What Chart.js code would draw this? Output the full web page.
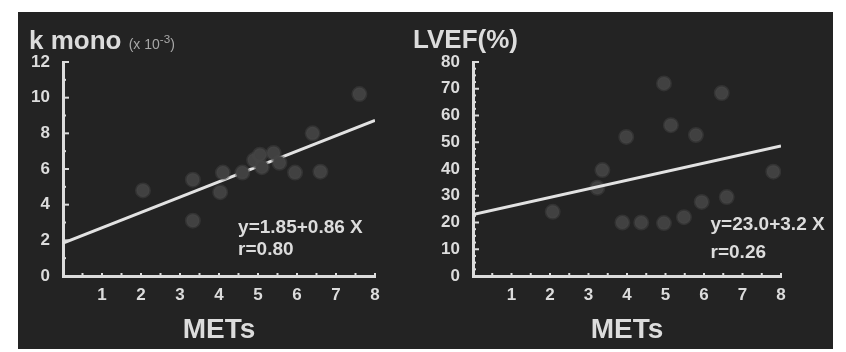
<!DOCTYPE html>
<html>
<head>
<meta charset="utf-8">
<script src="https://cdn.jsdelivr.net/npm/chart.js@4"></script>
<style>
  body { margin: 0; background: #fff; width: 846px; height: 352px; overflow: hidden; }
  #panel { position: absolute; left: 18px; top: 12px; width: 815px; height: 337px; background: #232323; }
  #cLeft { position: absolute; left: 0; top: 0; }
  #cRight { position: absolute; left: 405px; top: 0; }
  .ttl { position: absolute; color: #dcdcdc; font-family: "Liberation Sans", Arial, sans-serif; font-weight: bold; font-size: 26px; white-space: nowrap; line-height: 30px; }
  .ttl small { font-size: 14px; font-weight: normal; color: #a8a8a8; }
</style>
</head>
<body>
<div id="panel">
  <canvas id="cLeft" width="405" height="337"></canvas>
  <canvas id="cRight" width="410" height="337"></canvas>
  <div class="ttl" style="left:11px; top:12px;">k mono <small>(x 10<sup>-3</sup>)</small></div>
  <div class="ttl" style="left:395px; top:12px;">LVEF(%)</div>
</div>
<script>
// k mono vs METs
const kmonoX = [2.05, 3.33, 3.33, 4.03, 4.1, 4.6, 4.9, 5.05, 5.1, 5.4, 5.55, 5.95, 6.4, 6.6, 7.6];
const kmonoY = [4.8, 5.4, 3.1, 4.7, 5.8, 5.8, 6.5, 6.8, 6.1, 6.9, 6.35, 5.8, 8.0, 5.85, 10.2];
const kmonoFitX = [0, 8];
const kmonoFitY = [1.85, 8.73];

// LVEF vs METs
const lvefX = [2.07, 3.23, 3.36, 3.88, 3.98, 4.37, 4.96, 4.96, 5.14, 5.48, 5.79, 5.94, 6.46, 6.59, 7.8];
const lvefY = [24, 33, 39.6, 20, 52, 20, 72, 19.8, 56.4, 22, 52.7, 27.7, 68.4, 29.5, 39];
const lvefFitX = [0, 8];
const lvefFitY = [23.0, 48.6];

const xTicks = [1, 2, 3, 4, 5, 6, 7, 8];

const fg = '#dcdcdc';
const fontFam = '"Liberation Sans", Arial, sans-serif';

function pts(xs, ys) {
    return xs.map((x, i) => ({x: x, y: ys[i]}));
}

// small ticks pointing into the plot, like the original
const innerTicks = {
    id: 'innerTicks',
    afterDraw(chart) {
        const ctx = chart.ctx;
        const a = chart.chartArea;
        ctx.save();
        ctx.strokeStyle = fg;
        ctx.lineWidth = 2;
        chart.scales.x.ticks.forEach(t => {
            const px = chart.scales.x.getPixelForValue(t.value);
            ctx.beginPath();
            ctx.moveTo(px, a.bottom);
            ctx.lineTo(px, a.bottom - 3);
            ctx.stroke();
        });
        chart.scales.y.ticks.forEach(t => {
            const py = chart.scales.y.getPixelForValue(t.value);
            const len = t.label !== '' ? 6 : 3;
            ctx.beginPath();
            ctx.moveTo(a.left, py);
            ctx.lineTo(a.left + len, py);
            ctx.stroke();
        });
        ctx.restore();
    }
};

// regression equation text, placed in data coordinates
const fitText = {
    id: 'fitText',
    afterDraw(chart, args, opts) {
        const ctx = chart.ctx;
        ctx.save();
        ctx.fillStyle = fg;
        ctx.font = 'bold 19px ' + fontFam;
        ctx.textBaseline = 'middle';
        opts.lines.forEach(l => {
            ctx.fillText(l.text, chart.scales.x.getPixelForValue(l.x), chart.scales.y.getPixelForValue(l.y));
        });
        ctx.restore();
    }
};

function makeChart(id, xs, ys, fx, fy, yMax, yStep, yLabelEvery, yWidth, rightPad, lines, lineOnTop) {
    return new Chart(document.getElementById(id).getContext('2d'), {
        type: 'scatter',
        data: {
            datasets: [{
                data: pts(xs, ys),
                backgroundColor: '#414141',
                borderColor: 'rgba(70,70,70,0.45)',
                borderWidth: 3,
                pointRadius: 6.5,
                order: lineOnTop ? 1 : 0
            }, {
                type: 'line',
                data: pts(fx, fy),
                borderColor: '#e2e2e2',
                borderWidth: 3,
                pointRadius: 0,
                fill: false,
                order: lineOnTop ? 0 : 1
            }]
        },
        options: {
            responsive: false,
            animation: false,
            layout: { padding: { left: 0, top: 50, right: rightPad, bottom: 0 } },
            plugins: {
                legend: { display: false },
                tooltip: { enabled: false },
                fitText: { lines: lines }
            },
            scales: {
                x: {
                    type: 'linear',
                    min: 0,
                    max: 8,
                    afterFit: s => { s.height = 73; },
                    grid: { display: false, drawTicks: false },
                    border: { display: true, color: fg, width: 3 },
                    ticks: {
                        stepSize: 0.5,
                        autoSkip: false,
                        maxRotation: 0,
                        padding: 9,
                        color: fg,
                        font: { size: 17, weight: 'bold', family: fontFam },
                        callback: v => xTicks.includes(v) ? String(v) : ''
                    },
                    title: {
                        display: true,
                        text: 'METs',
                        color: fg,
                        font: { size: 28, weight: 'bold', family: fontFam },
                        padding: { top: 0, bottom: 2 }
                    }
                },
                y: {
                    min: 0,
                    max: yMax,
                    afterFit: s => { s.width = yWidth; },
                    grid: { display: false, drawTicks: false },
                    border: { display: true, color: fg, width: 3 },
                    ticks: {
                        stepSize: yStep,
                        autoSkip: false,
                        padding: 13,
                        color: fg,
                        font: { size: 17, weight: 'bold', family: fontFam },
                        callback: v => v % yLabelEvery === 0 ? String(v) : ''
                    }
                }
            }
        },
        plugins: [innerTicks, fitText]
    });
}

makeChart('cLeft', kmonoX, kmonoY, kmonoFitX, kmonoFitY, 12, 1, 2, 45, 48,
    [{text: 'y=1.85+0.86 X', x: 4.49, y: 2.7}, {text: 'r=0.80', x: 4.49, y: 1.45}], false);
makeChart('cRight', lvefX, lvefY, lvefFitX, lvefFitY, 80, 2.5, 10, 50, 52,
    [{text: 'y=23.0+3.2 X', x: 6.17, y: 19}, {text: 'r=0.26', x: 6.17, y: 8.6}], true);
</script>
</body>
</html>
